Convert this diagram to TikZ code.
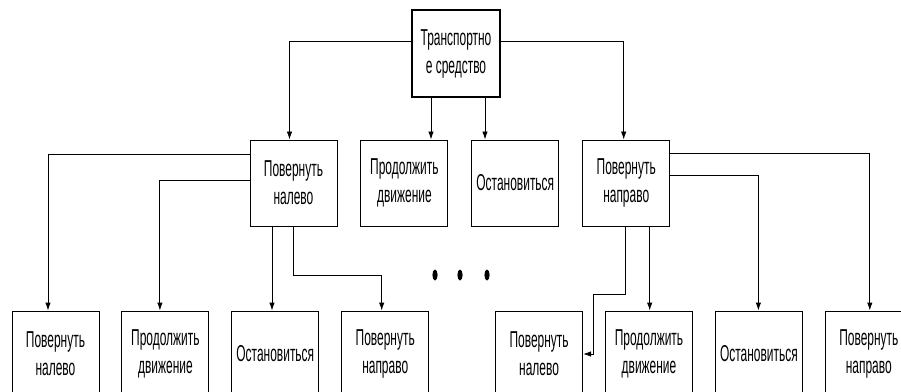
\documentclass[tikz,border=0pt]{standalone}
\usepackage{fontspec}
\setmainfont{Liberation Sans}[FakeStretch=0.52]
\usepackage{tikz}
\usetikzlibrary{arrows.meta,positioning}

\begin{document}
\begin{tikzpicture}[
  x=1pt, y=1pt,
  font=\fontsize{23}{28}\selectfont,
  box/.style={draw, line width=0.9pt, align=center, inner sep=0pt, minimum width=87pt, minimum height=86pt},
  root/.style={box, line width=2.6pt, minimum width=88pt, minimum height=87pt},
  arr/.style={-{Latex[length=8pt,width=5.5pt]}, line width=0.9pt}
]
\useasboundingbox (0,0) rectangle (901,391);
\clip (0,0) rectangle (901,391);

\node[root] (t) at (456,337.5) {Транспортно\\е средство};

% middle row
\node[box] (ml) at (293.5,208) {Повернуть\\налево};
\node[box, right=23pt of ml] (mc) {Продолжить\\движение};
\node[box, right=23pt of mc] (ms) {Остановиться};
\node[box, right=23pt of ms] (mr) {Повернуть\\направо};

% bottom row
\node[box] (b1) at (55.5,37) {Повернуть\\налево};
\node[box, right=22pt of b1] (b2) {Продолжить\\движение};
\node[box, right=22pt of b2] (b3) {Остановиться};
\node[box, right=22pt of b3] (b4) {Повернуть\\направо};
\node[box, right=66pt of b4] (b5) {Повернуть\\налево};
\node[box, right=22pt of b5] (b6) {Продолжить\\движение};
\node[box, right=22pt of b6] (b7) {Остановиться};
\node[box, right=22pt of b7] (b8) {Повернуть\\направо};

\draw[arr] ([yshift=12.5pt]t.west) -| ([xshift=-4pt]ml.north);
\draw[arr] ([yshift=12.5pt]t.east) -| ([xshift=-2.5pt]mr.north);
\draw[arr] ([xshift=-25pt]t.south) -- ([xshift=-25pt]t.south |- mc.north);
\draw[arr] ([xshift=29pt]t.south) -- ([xshift=29pt]t.south |- ms.north);

\draw[arr] ([yshift=29pt]ml.west) -| ([xshift=-7.5pt]b1.north);
\draw[arr] ([yshift=3pt]ml.west) -| ([xshift=-5.5pt]b2.north);
\draw[arr] ([xshift=-21.5pt]ml.south) -- ([xshift=-21.5pt]ml.south |- b3.north);
\draw[arr] (ml.south) -- ++(0,-49pt) -| ([xshift=-3.5pt]b4.north);

\draw[arr] ([yshift=30pt]mr.east) -| ([xshift=1pt]b8.north);
\draw[arr] ([yshift=8pt]mr.east) -| ([xshift=-0.5pt]b7.north);
\draw[arr] ([xshift=-1pt]mr.south) -- ++(0,-68pt) -- ++(-32pt,0) |- (b5.east);
\draw[arr] ([xshift=23.5pt]mr.south) -- ([xshift=23.5pt]mr.south |- b6.north);

% dots
\fill (435,116) ellipse (2.6 and 5.5);
\fill (460,116) ellipse (2.6 and 5.5);
\fill (487,116) ellipse (2.6 and 5.5);
\end{tikzpicture}
\end{document}
